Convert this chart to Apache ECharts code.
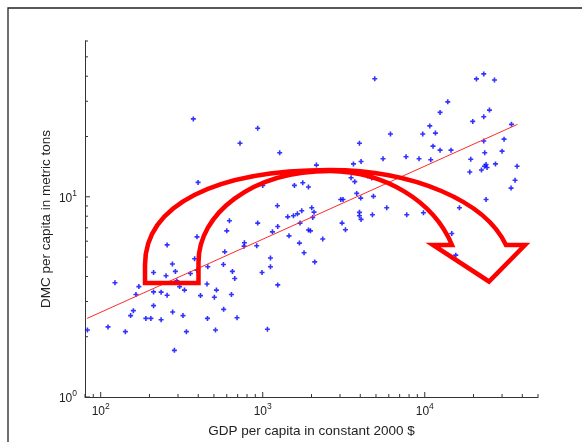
<!DOCTYPE html>
<html><head><meta charset="utf-8">
<script src="https://cdn.jsdelivr.net/npm/echarts@6/dist/echarts.min.js"></script>
<style>html,body{margin:0;padding:0;background:#fff}#c{width:582px;height:442px}</style>
</head><body><div id="c"></div>
<script>
// GDP per capita (constant 2000 $) for each country
const gdp = [373,931,724,1273,2145,399,1000,1569,1766,1915,1232,545,1427,1547,1637,1741,2007,2073,623,931,
  1238,1699,2035,600,1915,1970,393,1148,1453,2346,4913,20850,23130,26930,13870,12430,25080,19780,23130,10740,
  6142,9720,11640,34300,30870,3953,23130,11250,12430,14530,23460,30000,4045,5528,7665,9222,10890,19230,27320,23900,
  24240,23360,22390,18960,37140,3630,4447,3509,3698,4707,36090,34100,3804,3030,3131,4026,4823,23900,5826,3953,
  3953,4045,4755,7742,9817,16370,3087,3240,14680,1799,2094,15540,257,583,771,767,918,1685,380,277,
  212,253,289,358,393,572,650,672,990,1116,1116,1238,458,122.5,172,295,307,329,212,236,
  257,165,453,413,518,503,641,574,694,212,159,153,278,322,190,204,236,456,82.8,111,
  142,338,511,1069,285];
// DMC per capita (metric tons) for each country
const dmc = [24.5,22.0,18.5,16.6,14.4,11.8,11.4,11.4,11.75,11.2,9.02,8.45,7.94,8.04,8.22,8.51,8.81,8.38,7.59,7.39,
  7.11,7.39,7.89,6.76,6.82,6.76,6.31,6.68,6.38,6.15,38.9,38.8,41.1,38.3,29.8,26.4,27.1,23.8,25.1,22.6,
  20.6,20.6,20.8,23.0,19.4,18.5,19.0,17.9,17.1,17.1,16.6,16.9,15.0,15.5,15.85,15.5,15.3,15.4,14.6,14.5,
  14.0,14.2,13.6,13.3,14.2,14.6,12.7,12.45,11.9,12.4,12.1,11.05,10.4,9.7,9.7,9.85,10.05,9.7,8.81,8.36,
  8.04,7.71,8.13,8.13,8.32,8.81,7.39,6.84,6.56,5.25,4.73,5.11,5.75,5.31,5.89,5.67,5.69,5.87,4.90,4.62,
  4.19,4.03,4.24,4.14,4.30,4.59,4.24,3.91,4.19,4.47,4.95,3.63,4.47,3.72,3.56,3.80,3.56,3.42,3.35,3.34,
  3.22,3.25,3.67,3.21,3.42,3.15,3.25,2.74,2.49,2.86,2.70,2.55,2.66,2.55,2.47,2.47,2.43,2.47,2.16,2.24,
  2.12,2.12,2.16,2.18,1.71];
// fitted regression line end points
const fitGdp = [82.5, 37350];
const fitDmc = [2.47, 23.0];
// axis ranges and ticks
const xRange = [80, 50000];
const yRange = [1, 60];
const xMajorTicks = [100, 1000, 10000];
const xMinorTicks = [80, 90, 200, 300, 400, 500, 600, 700, 800, 900, 2000, 3000, 4000, 5000, 6000, 7000, 8000, 9000, 20000, 30000, 40000, 50000];
const yMajorTicks = [1, 10];
const yMinorTicks = [2, 3, 4, 5, 6, 7, 8, 9, 20, 30, 40, 50, 60];
const xTitle = 'GDP per capita in constant 2000 $';
const yTitle = 'DMC per capita in metric tons';

const FONT = '"Liberation Sans", Arial, Helvetica, sans-serif';
const TXT = '#222';

const points = gdp.map((g, i) => [g, dmc[i]]);
const fitLine = fitGdp.map((g, i) => [g, fitDmc[i]]);
const tickData = [];
xMajorTicks.forEach(v => tickData.push([v, yRange[0], 0, 5]));
xMinorTicks.forEach(v => tickData.push([v, yRange[0], 0, 3]));
yMajorTicks.forEach(v => tickData.push([xRange[0], v, 1, 5]));
yMinorTicks.forEach(v => tickData.push([xRange[0], v, 1, 3]));

function powLabel(v) {
  const l = Math.log10(v);
  const e = Math.round(l);
  if (Math.abs(l - e) > 1e-6) return '';
  return '{b|10}{s|' + e + '}';
}
const rich = {
  b: {fontSize: 12, fontFamily: FONT, color: TXT, lineHeight: 16, verticalAlign: 'bottom'},
  s: {fontSize: 8.5, fontFamily: FONT, color: TXT, lineHeight: 16, verticalAlign: 'top'}
};

// hand-drawn curved arrow annotation (pixel path over the plot)
const arrowPath = 'M 145 283 L 145 265 C 145 205 215 170 330 170 A 182 100 0 0 1 506 245 L 525 245 L 489 281.5 L 433 245 L 452 245 A 131 112 0 0 0 330 171 C 250 171 198.5 215 198.5 262 L 198.5 283 Z';

const chart = echarts.init(document.getElementById('c'), null, {renderer: 'canvas'});
chart.setOption({
  backgroundColor: '#fff',
  animation: false,
  grid: {left: 85, right: 44, top: 41, bottom: 45, containLabel: false, outerBoundsMode: 'none'},
  xAxis: {
    type: 'log', logBase: 10, min: xRange[0], max: xRange[1],
    name: xTitle, nameLocation: 'middle', nameGap: 27,
    nameTextStyle: {fontSize: 13.5, fontFamily: FONT, color: TXT},
    axisLine: {show: true, onZero: false, lineStyle: {color: '#333', width: 1}},
    axisTick: {show: false}, splitLine: {show: false}, minorTick: {show: false},
    axisLabel: {formatter: powLabel, rich: rich, margin: 5}
  },
  yAxis: {
    type: 'log', logBase: 10, min: yRange[0], max: yRange[1],
    name: yTitle, nameLocation: 'middle', nameGap: 32, nameMoveOverlap: false,
    nameTextStyle: {fontSize: 13.5, fontFamily: FONT, color: TXT},
    axisLine: {show: true, onZero: false, lineStyle: {color: '#333', width: 1}},
    axisTick: {show: false}, splitLine: {show: false}, minorTick: {show: false},
    axisLabel: {formatter: powLabel, rich: rich, margin: 8}
  },
  graphic: [
    {type: 'rect', silent: true, z: 0, shape: {x: 8, y: 8, width: 700, height: 700}, style: {fill: 'none', stroke: '#222', lineWidth: 1.3}}
  ],
  series: [
    {
      type: 'custom', data: tickData, silent: true, clip: false,
      encode: {x: 0, y: 1},
      renderItem: function (params, api) {
        const p = api.coord([api.value(0), api.value(1)]);
        const len = api.value(3);
        const isY = api.value(2) === 1;
        return {type: 'line', shape: isY ? {x1: p[0], y1: p[1], x2: p[0] + len, y2: p[1]} : {x1: p[0], y1: p[1], x2: p[0], y2: p[1] - len},
          style: {stroke: '#333', lineWidth: 1}};
      }
    },
    {
      type: 'scatter', data: points, silent: true,
      symbol: 'path://M1.7,0H3.3V1.7H5V3.3H3.3V5H1.7V3.3H0V1.7H1.7Z', symbolSize: 5,
      itemStyle: {color: '#0000ff'}
    },
    {
      type: 'line', data: fitLine, silent: true, symbol: 'none',
      lineStyle: {color: '#ff2a2a', width: 1}
    },
    {
      type: 'custom', data: [[xRange[0], yRange[0]]], silent: true, clip: false, z: 10,
      encode: {x: 0, y: 1},
      renderItem: function () {
        return {type: 'path', shape: {pathData: arrowPath},
          style: {fill: 'none', stroke: '#ff0000', lineWidth: 4.5, lineJoin: 'miter'}};
      }
    }
  ]
});
</script></body></html>
